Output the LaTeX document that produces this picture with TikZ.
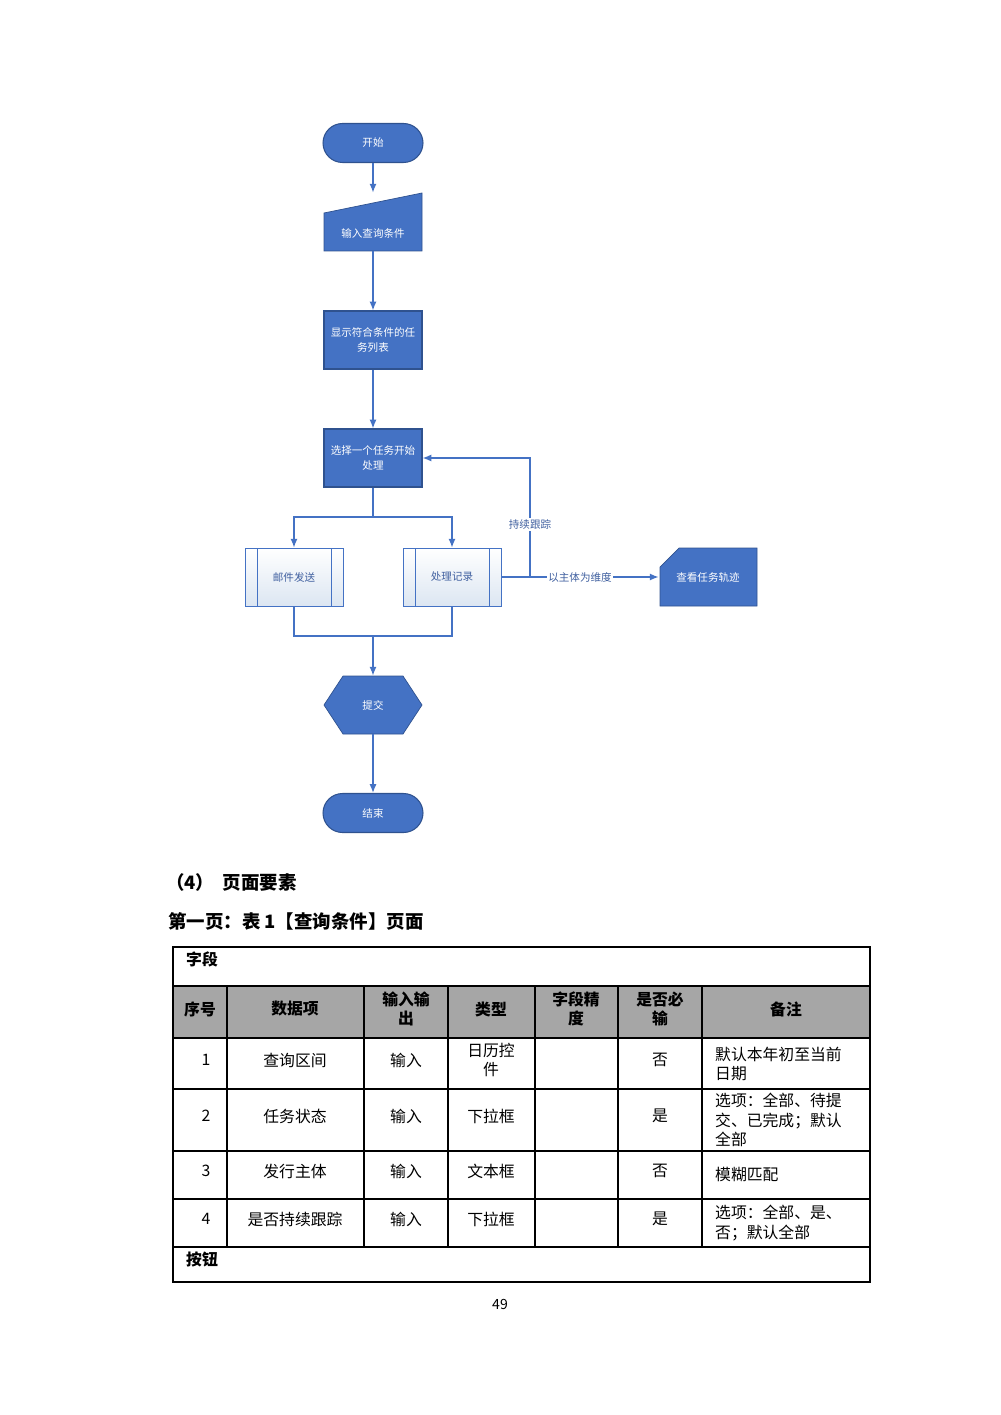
\documentclass[tikz,border=0pt]{standalone}
\usepackage{fontspec}
\setmainfont{Noto Sans CJK SC}
\usetikzlibrary{arrows.meta}
\definecolor{bf}{HTML}{4472C4}
\definecolor{bd}{HTML}{2F528F}
\definecolor{lt}{HTML}{DCE6F2}
\definecolor{lb}{HTML}{3F5F9F}
\definecolor{hg}{HTML}{A6A6A6}
\begin{document}
\begin{tikzpicture}[x=0.02cm,y=-0.02cm,
  box/.style={minimum width=1.96cm,minimum height=1.16cm,inner sep=0pt,align=center,font=\fontsize{6}{8}\selectfont,text=white},
  fl/.style={fill=bf,draw=bd,line width=0.6pt},
  term/.style={box,fl,minimum width=2cm,minimum height=0.78cm,rounded corners=0.39cm},
  con/.style={draw=bf,line width=0.8pt,-{Latex[length=5pt,width=4pt]}},
  ln/.style={draw=bf,line width=0.8pt},
  lab/.style={fill=white,inner sep=1pt,text=lb,font=\fontsize{6}{8}\selectfont},
  tb/.style={font=\fontsize{9}{11}\selectfont,align=center},
  th/.style={tb,font=\fontsize{9}{11}\selectfont\bfseries}]
\useasboundingbox (0,0) rectangle (1000,1415);
% flowchart
\node[term] (start) at (373,143) {开始};
\node[box] (inp) at (373,222) {};
\fill[bf,draw=bd] (324,213) -- (422,193) -- (422,251) -- (324,251) -- cycle;
\node[box,anchor=center] at (373,233) {输入查询条件};
\node[box,fl] (list) at (373,340) {显示符合条件的任\\务列表};
\node[box,fl] (sel) at (373,458) {选择一个任务开始\\处理};
\node[box,draw=bf,top color=white,bottom color=lt,text=lb] (mail) at (294,577) {邮件发送};
\draw[bf] (257,548) -- (257,606) (331,548) -- (331,606);
\node[box,draw=bf,top color=white,bottom color=lt,text=lb] (rec) at (452,577) {处理记录};
\draw[bf] (415,548) -- (415,606) (489,548) -- (489,606);
\node[box] (trk) at (708,577) {};
\fill[bf,draw=bd] (679,548) -- (757,548) -- (757,606) -- (660,606) -- (660,567) -- cycle;
\node[box] at (708,577) {查看任务轨迹};
\node[box] (sub) at (373,705) {};
\fill[bf,draw=bd] (324,705) -- (343,676) -- (403,676) -- (422,705) -- (403,734) -- (343,734) -- cycle;
\node[box] at (373,705) {提交};
\node[term] (end) at (373,813) {结束};
\draw[con] (start) -- (inp);
\draw[con] (inp.south) -- (list);
\draw[con] (list) -- (sel);
\coordinate (j1) at (373,517);
\draw[ln] (sel) -- (j1);
\draw[con] (j1) -| (mail.north);
\draw[con] (j1) -| (rec.north);
\coordinate (j2) at (373,636);
\draw[ln] (mail.south) |- (j2);
\draw[ln] (rec.south) |- (j2);
\draw[con] (j2) -- (sub.north);
\draw[con] (sub.south) -- (end);
\coordinate (c1) at (530,577);
\draw[con] (rec.east) -- (c1) |- (sel.east) node[lab,pos=0.22] {持续跟踪};
\draw[con] (rec.east) -- node[lab,pos=0.5] {以主体为维度} (trk.west);
% text
\node[anchor=west,font=\fontsize{10.5}{12}\selectfont\bfseries] (h4) at (160,882) {（4）\ \ 页面要素};
\node[anchor=west,font=\fontsize{10.5}{12}\selectfont\bfseries] (h5) at (162,921) {第一页：表 1【查询条件】页面};
% table
\fill[hg] (173,986) rectangle (870,1038);
\draw[line width=0.6pt] (173,947) rectangle (870,1282);
\foreach \y in {986,1038,1089,1151,1199,1247} \draw[line width=0.6pt] (173,\y) -- (870,\y);
\foreach \x in {227,364,448,535,618,702} \draw[line width=0.6pt] (\x,986) -- (\x,1247);
\node[th,anchor=west] at (180,959) {字段};
\node[th,anchor=west] at (180,1259) {按钮};
\node[th] at (200,1009) {序号};
\node[th] at (295,1009) {数据项};
\node[th] at (406,1009) {输入输\\出};
\node[th] at (491,1009) {类型};
\node[th] at (576,1009) {字段精\\度};
\node[th] at (660,1009) {是否必\\输};
\node[th] at (786,1009) {备注};
\node[tb] at (206,1060) {1};
\node[tb] at (295,1060) {查询区间};
\node[tb] at (406,1060) {输入};
\node[tb] at (491,1060) {日历控\\件};
\node[tb] at (660,1060) {否};
\node[tb,anchor=west,align=left] at (709,1064) {默认本年初至当前\\日期};
\node[tb] at (206,1116) {2};
\node[tb] at (295,1116) {任务状态};
\node[tb] at (406,1116) {输入};
\node[tb] at (491,1116) {下拉框};
\node[tb] at (660,1116) {是};
\node[tb,anchor=west,align=left] at (709,1120) {选项：全部、待提\\交、已完成；默认\\全部};
\node[tb] at (206,1171) {3};
\node[tb] at (295,1171) {发行主体};
\node[tb] at (406,1171) {输入};
\node[tb] at (491,1171) {文本框};
\node[tb] at (660,1171) {否};
\node[tb,anchor=west] at (709,1175) {模糊匹配};
\node[tb] at (206,1219) {4};
\node[tb] at (295,1219) {是否持续跟踪};
\node[tb] at (406,1219) {输入};
\node[tb] at (491,1219) {下拉框};
\node[tb] at (660,1219) {是};
\node[tb,anchor=west,align=left] at (709,1223) {选项：全部、是、\\否；默认全部};
\node[font=\fontsize{8}{10}\selectfont] (pg) at (500,1304) {49};
\end{tikzpicture}
\end{document}
